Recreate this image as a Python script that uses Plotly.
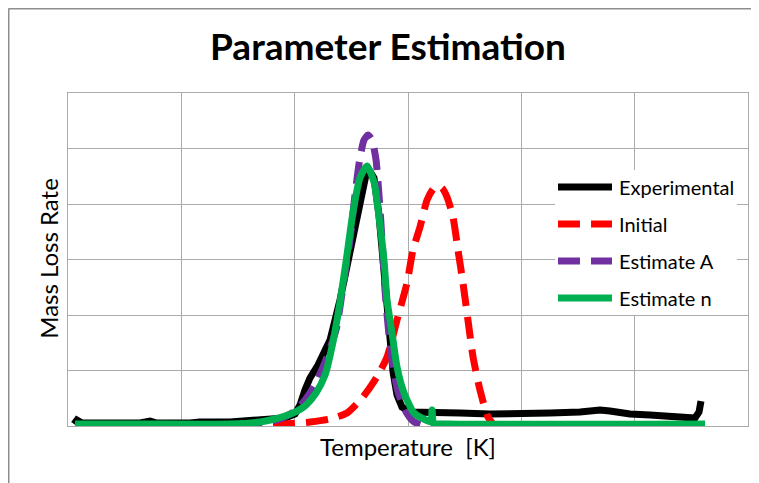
import plotly.graph_objects as go

# Temperature [K] and mass loss rate (arbitrary units)
exp_temp = [305.3, 307.9, 312.4, 328.2, 363.5, 372.4, 378.5, 407.6, 416.5, 442.9,
            460.6, 478.2, 491.5, 500.3, 504.7, 509.1, 513.5, 520.6, 531.2, 540.0,
            548.8, 557.6, 562.9, 565.6, 570.0, 574.4, 578.8, 583.2, 586.8, 590.3,
            594.7, 601.8, 619.4, 645.9, 672.4, 698.8, 725.3, 751.8, 769.4, 778.2,
            795.9, 813.5, 831.2, 853.2, 856.8, 858.5]
exp_rate = [0.036, 0.108, 0.054, 0.054, 0.054, 0.090, 0.054, 0.054, 0.072, 0.072,
            0.090, 0.108, 0.144, 0.216, 0.378, 0.649, 0.865, 1.099, 1.550, 2.270,
            3.171, 4.072, 4.523, 4.613, 4.468, 3.802, 2.811, 1.640, 0.973, 0.559,
            0.342, 0.252, 0.234, 0.234, 0.216, 0.216, 0.234, 0.252, 0.288, 0.270,
            0.216, 0.198, 0.162, 0.144, 0.252, 0.450]

init_temp = [306.2, 469.4, 491.5, 513.5, 531.2, 546.2, 560.3, 572.6, 581.5, 590.3,
             599.1, 604.4, 610.6, 616.8, 622.1, 625.6, 630.0, 634.4, 639.7, 644.1,
             648.5, 652.9, 657.4, 663.5, 670.6, 676.8, 862.1]
init_rate = [0.018, 0.018, 0.036, 0.072, 0.126, 0.234, 0.523, 0.883, 1.243, 1.910,
             2.577, 3.171, 3.586, 4.072, 4.270, 4.324, 4.288, 4.126, 3.766, 3.171,
             2.577, 1.910, 1.243, 0.649, 0.162, 0.018, 0.018]

estA_temp = [306.2, 416.5, 469.4, 487.1, 500.3, 509.1, 517.9, 526.8, 536.5, 542.6,
             548.8, 553.2, 557.6, 561.2, 564.7, 568.2, 571.8, 574.4, 577.1, 579.7,
             583.2, 586.8, 591.2, 597.4, 604.4, 612.4, 862.1]
estA_rate = [0.018, 0.018, 0.054, 0.126, 0.270, 0.468, 0.739, 1.153, 1.730, 2.505,
             3.351, 4.162, 4.829, 5.153, 5.243, 5.153, 4.793, 4.162, 3.351, 2.450,
             1.640, 1.063, 0.613, 0.288, 0.090, 0.018, 0.018]

estn_temp = [306.2, 372.4, 442.9, 469.4, 482.6, 491.5, 500.3, 510.0, 518.8, 526.8,
             533.8, 540.0, 545.3, 551.5, 557.6, 563.8, 570.0, 574.4, 578.8, 581.5,
             585.9, 590.3, 596.5, 605.3, 617.6, 620.3, 621.2, 622.9, 637.1, 862.1]
estn_rate = [0.036, 0.036, 0.036, 0.072, 0.126, 0.180, 0.252, 0.378, 0.595, 0.919,
             1.514, 2.234, 2.955, 3.856, 4.468, 4.685, 4.396, 3.766, 2.991, 2.270,
             1.676, 1.063, 0.595, 0.234, 0.090, 0.072, 0.288, 0.054, 0.036, 0.036]

series_names = ["Experimental", "Initial", "Estimate A", "Estimate n"]
series_colors = ["#000000", "#ff0000", "#7030a0", "#00b050"]
series_dash = ["solid", "22px,11px", "22px,11px", "solid"]
series_x = [exp_temp, init_temp, estA_temp, estn_temp]
series_y = [exp_rate, init_rate, estA_rate, estn_rate]

fig = go.Figure()
for i, name in enumerate(series_names):
    fig.add_trace(go.Scatter(
        x=series_x[i], y=series_y[i], mode="lines", name=name,
        line=dict(color=series_colors[i], width=7, dash=series_dash[i],
                  shape="linear" if i == 0 else "spline", smoothing=0.6),
        showlegend=False))

# frame around the whole chart (left and top edges visible)
shapes = [
    dict(type="line", xref="paper", yref="paper", x0=-0.0875, x1=-0.0875, y0=-0.3, y1=1.2538,
         line=dict(color="#8e8e8e", width=2)),
    dict(type="line", xref="paper", yref="paper", x0=-0.0875, x1=1.05, y0=1.2538, y1=1.2538,
         line=dict(color="#8e8e8e", width=2)),
    # legend background
    dict(type="rect", xref="paper", yref="paper", x0=0.7162, x1=0.9838, y0=0.3333, y1=0.7688,
         fillcolor="white", line=dict(width=0)),
]
annotations = []
legend_y = [0.7177, 0.6066, 0.4955, 0.3844]
for i, name in enumerate(series_names):
    shapes.append(dict(type="line", xref="paper", yref="paper", x0=0.7206, x1=0.80,
                       y0=legend_y[i], y1=legend_y[i],
                       line=dict(color=series_colors[i], width=7, dash=series_dash[i])))
    annotations.append(dict(text=name, xref="paper", yref="paper", x=0.8074, y=legend_y[i],
                            xanchor="left", yanchor="middle", showarrow=False,
                            font=dict(family="Lato", size=20, color="#000000")))

annotations.append(dict(text="Temperature  [K]", xref="paper", yref="paper", x=0.5, y=-0.063,
                        xanchor="center", yanchor="middle", showarrow=False,
                        font=dict(family="Lato", size=24, color="#000000")))
annotations.append(dict(text="Mass Loss Rate", xref="paper", yref="paper", x=-0.028, y=0.505,
                        xanchor="center", yanchor="middle", textangle=-90, showarrow=False,
                        font=dict(family="Lato", size=24, color="#000000")))

# page body adds an 8px offset, so margins are shifted accordingly
fig.update_layout(
    width=759, height=483,
    margin=dict(l=60, r=19, t=85, b=65),
    paper_bgcolor="white", plot_bgcolor="white",
    title=dict(text="<b>Parameter Estimation</b>", x=0.4706, xref="paper",
               y=1 - 39 / 483, yanchor="middle",
               font=dict(family="Lato", size=37, color="#000000")),
    shapes=shapes, annotations=annotations,
)
fig.update_xaxes(range=[300, 900], dtick=100, showticklabels=False, ticks="",
                 showgrid=True, gridcolor="#ababab", gridwidth=1, zeroline=False,
                 showline=True, linecolor="#ababab", linewidth=1, mirror=True)
fig.update_yaxes(range=[0, 6], dtick=1, showticklabels=False, ticks="",
                 showgrid=True, gridcolor="#ababab", gridwidth=1, zeroline=False,
                 showline=True, linecolor="#ababab", linewidth=1, mirror=True)

fig.write_html("out.html")
